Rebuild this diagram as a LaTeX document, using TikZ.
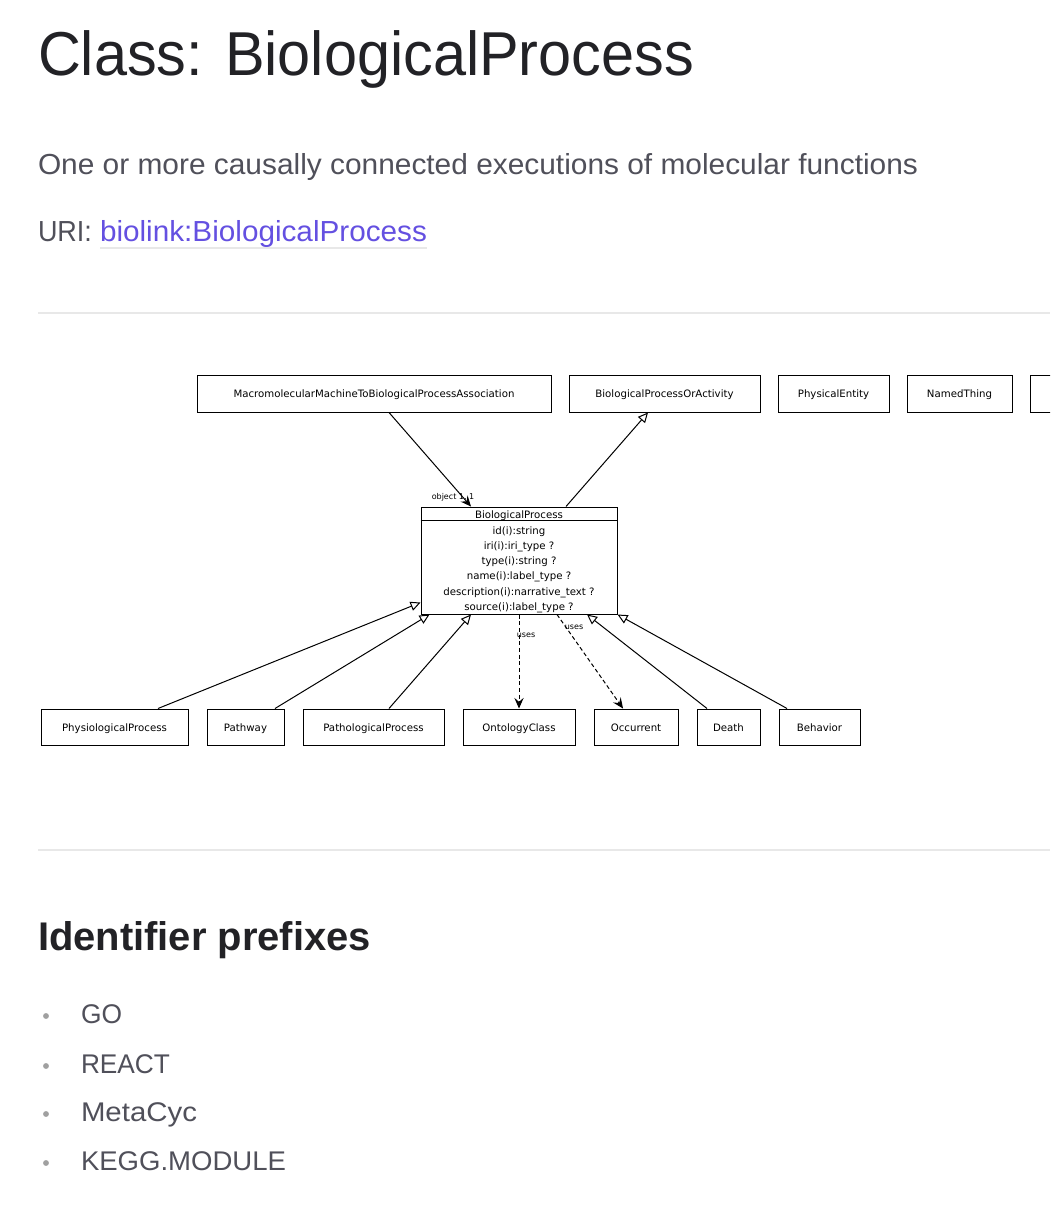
\documentclass[tikz,border=0pt]{standalone}
\usepackage{fontspec}
\setmainfont{Liberation Sans}
\newfontfamily\diagfont{DejaVu Sans}
\usetikzlibrary{arrows.meta,calc}
\definecolor{titlec}{HTML}{222226}
\definecolor{bodyc}{HTML}{50505A}
\definecolor{linkc}{HTML}{6450E1}
\definecolor{rulec}{HTML}{E8E8E8}
\definecolor{bulc}{HTML}{A0A0A0}
\newcommand\fitw[2]{\resizebox{#1}{\height}{#2}}
\begin{document}
\begin{tikzpicture}[x=0.75pt,y=-0.75pt,
  pagetext/.style={anchor=base west, inner sep=0, outer sep=0},
  cls/.style={draw, line width=0.75pt, fill=white, inner sep=0, text height=6.6pt, text depth=0.6pt, font=\diagfont\fontsize{7.65}{9}\selectfont},
  diagtext/.style={inner sep=0, text height=6.6pt, text depth=0.6pt, font=\diagfont\fontsize{7.65}{9}\selectfont},
  small/.style={inner sep=0, font=\diagfont\fontsize{6}{7}\selectfont},
  inh/.style={draw, line width=0.75pt, -{Triangle[open, length=7.5pt, width=7pt]}},
  assoc/.style={draw, line width=0.75pt, -{Stealth[length=8pt, width=7pt, inset=3pt]}},
  usesline/.style={assoc, dash pattern=on 3pt off 2pt}
]
\useasboundingbox (0,0) rectangle (1050,1206);
\fill[white] (0,0) rectangle (1050,1206);

% page header text
\node[pagetext, text=titlec, font=\fontsize{46.5}{50}\selectfont] (title) at (38,75) {\fitw{492pt}{Class: BiologicalProcess}};
\node[pagetext, text=bodyc, font=\fontsize{21.75}{26}\selectfont] (desc) at (38,174) {\fitw{660pt}{One or more causally connected executions of molecular functions}};
\node[pagetext, text=bodyc, font=\fontsize{21.75}{26}\selectfont] (uri) at (38,241) {\fitw{40.5pt}{URI:}};
\node[pagetext, text=linkc, font=\fontsize{21.75}{26}\selectfont] (link) at (100,241) {\fitw{245.25pt}{biolink:BiologicalProcess}};
\draw[rulec, line width=1.5pt] (100,248) -- (427,248);
\draw[rulec, line width=1.2pt] (38,313) -- (1050,313);
\draw[rulec, line width=1.2pt] (38,850) -- (1050,850);

% diagram boxes, top row
\node[cls, minimum width=265.5pt, minimum height=27.75pt] (macro) at (374,393.5) {MacromolecularMachineToBiologicalProcessAssociation};
\node[cls, minimum width=143.25pt, minimum height=27.75pt] (bpoa) at (664.5,393.5) {BiologicalProcessOrActivity};
\node[cls, minimum width=83.25pt, minimum height=27.75pt] (phys) at (833.5,393.5) {PhysicalEntity};
\node[cls, minimum width=78.75pt, minimum height=27.75pt] (named) at (959.5,393.5) {NamedThing};
\begin{scope}
\clip (0,0) rectangle (1050,1206);
\node[cls, minimum width=75pt, minimum height=27.75pt] (more) at (1080,393.5) {};
\end{scope}

% central class
\node[cls, minimum width=147pt, minimum height=80.25pt] (bp) at (519,560.5) {};
\draw[line width=0.75pt] ($(bp.north west)+(0,14)$) -- ($(bp.north east)+(0,14)$);
\node[diagtext] (bphead) at (519,514) {BiologicalProcess};
\node[diagtext] (a1) at (519,530) {id(i):string};
\node[diagtext] (a2) at (519,545.3) {iri(i):iri\_type ?};
\node[diagtext] (a3) at (519,560.6) {type(i):string ?};
\node[diagtext] (a4) at (519,575.9) {name(i):label\_type ?};
\node[diagtext] (a5) at (519,591.2) {description(i):narrative\_text ?};
\node[diagtext] (a6) at (519,606.5) {source(i):label\_type ?};

% bottom row
\node[cls, minimum width=110.25pt, minimum height=27pt] (physio) at (114.5,727) {PhysiologicalProcess};
\node[cls, minimum width=57.75pt, minimum height=27pt] (pathway) at (245.5,727) {Pathway};
\node[cls, minimum width=105.75pt, minimum height=27pt] (patho) at (373.5,727) {PathologicalProcess};
\node[cls, minimum width=84pt, minimum height=27pt] (onto) at (519,727) {OntologyClass};
\node[cls, minimum width=63pt, minimum height=27pt] (occ) at (636,727) {Occurrent};
\node[cls, minimum width=47.25pt, minimum height=27pt] (death) at (728.5,727) {Death};
\node[cls, minimum width=60.75pt, minimum height=27pt] (behav) at (819.5,727) {Behavior};

% connectors
\draw[assoc] ($(macro.south)+(15,0)$) -- ($(bp.north)+(-48,0)$);
\node[small] (objlbl) at (453,497) {object 1..1};
\draw[inh] ($(bp.north)+(47,0)$) -- ($(bpoa.south)+(-16.5,0)$);
\draw[inh] ($(physio.north)+(43.5,0)$) -- ($(bp.south west)+(0,-12)$);
\draw[inh] ($(pathway.north)+(29.5,0)$) -- ($(bp.south west)+(9,0)$);
\draw[inh] ($(patho.north)+(15.5,0)$) -- ($(bp.south)+(-48,0)$);
\draw[usesline] (bp.south) -- (onto.north);
\node[small] (uses1) at (526,635) {uses};
\draw[usesline] ($(bp.south)+(38,0)$) -- ($(occ.north)+(-13,0)$);
\node[small] (uses2) at (574,627) {uses};
\draw[inh] ($(death.north)+(-21.5,0)$) -- ($(bp.south)+(68,0)$);
\draw[inh] ($(behav.north)+(-32.5,0)$) -- (bp.south east);

% identifier prefixes
\node[pagetext, text=titlec, font=\bfseries\fontsize{30}{34}\selectfont] (idhead) at (38,950) {\fitw{249.75pt}{Identifier prefixes}};
\fill[bulc] (46,1016) circle[radius=2.2pt];
\fill[bulc] (46,1066) circle[radius=2.2pt];
\fill[bulc] (46,1114) circle[radius=2.2pt];
\fill[bulc] (46,1163) circle[radius=2.2pt];
\node[pagetext, text=bodyc, font=\fontsize{20.25}{24}\selectfont] (go) at (81,1023) {\fitw{30.75pt}{GO}};
\node[pagetext, text=bodyc, font=\fontsize{20.25}{24}\selectfont] (react) at (81,1073) {\fitw{66.75pt}{REACT}};
\node[pagetext, text=bodyc, font=\fontsize{20.25}{24}\selectfont] (metacyc) at (81,1121) {\fitw{87pt}{MetaCyc}};
\node[pagetext, text=bodyc, font=\fontsize{20.25}{24}\selectfont] (kegg) at (81,1170) {\fitw{153.75pt}{KEGG.MODULE}};
\end{tikzpicture}
\end{document}
